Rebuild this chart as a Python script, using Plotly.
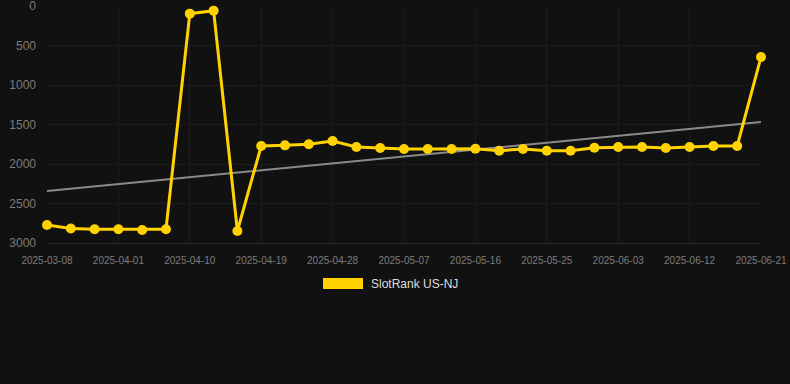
import plotly.graph_objects as go

dates = ["2025-03-08", "2025-03-20", "2025-03-29", "2025-04-01", "2025-04-04", "2025-04-07",
         "2025-04-10", "2025-04-13", "2025-04-16", "2025-04-19", "2025-04-22", "2025-04-25",
         "2025-04-28", "2025-05-01", "2025-05-04", "2025-05-07", "2025-05-10", "2025-05-13",
         "2025-05-16", "2025-05-19", "2025-05-22", "2025-05-25", "2025-05-28", "2025-05-31",
         "2025-06-03", "2025-06-06", "2025-06-09", "2025-06-12", "2025-06-15", "2025-06-18",
         "2025-06-21"]
ranks = [2772, 2816, 2826, 2826, 2835, 2826, 97, 59, 2848, 1772, 1764, 1751, 1709, 1785, 1797,
         1810, 1810, 1810, 1806, 1832, 1810, 1832, 1832, 1794, 1785, 1785, 1797, 1785, 1772,
         1772, 646]
trend_values = [2342, 1468]
y_ticks = [0, 500, 1000, 1500, 2000, 2500, 3000]
series_name = "SlotRank US-NJ"

gold = "#ffd200"
bg = "#111111"

fig = go.Figure()
fig.add_trace(go.Scatter(
    x=[dates[0], dates[-1]], y=trend_values, mode="lines",
    line=dict(color="#8a8a8a", width=2), showlegend=False, hoverinfo="skip"))
fig.add_trace(go.Scatter(
    x=dates, y=ranks, mode="lines+markers", name=series_name,
    line=dict(color=gold, width=3), marker=dict(color=gold, size=10),
    cliponaxis=False, showlegend=False))

fig.update_layout(
    width=790, height=384,
    paper_bgcolor=bg, plot_bgcolor=bg,
    margin=dict(l=47, r=29, t=6, b=141),
    font=dict(family="Liberation Sans, Arial, sans-serif", color="#7c7c7c"),
    xaxis=dict(type="category", categoryorder="array", categoryarray=dates,
               range=[0, len(dates) - 1], automargin=False,
               tickvals=dates[::3], ticktext=dates[::3],
               tickfont=dict(size=10, color="#7c7c7c"),
               showgrid=True, gridcolor="#1c1c1c", gridwidth=1,
               ticks="outside", ticklen=8, tickcolor="rgba(0,0,0,0)",
               showline=True, linecolor="#2a2a2a", zeroline=False),
    yaxis=dict(range=[3000, 0], tickvals=y_ticks, automargin=False,
               tickfont=dict(size=12, color="#7c7c7c"),
               showgrid=True, gridcolor="#1c1c1c", gridwidth=1,
               zeroline=False, ticklabelstandoff=10, showline=False,
               ticklabeloverflow="allow"),
    showlegend=False,
)

fig.add_shape(type="rect", xref="paper", yref="paper",
              x0=(323 - 47) / 714, x1=(363 - 47) / 714,
              y0=(243 - 289) / 237, y1=(243 - 278) / 237,
              fillcolor=gold, line=dict(width=0))
fig.add_annotation(text=series_name, xref="paper", yref="paper",
                   x=(369 - 47) / 714, y=(243 - 284) / 237,
                   xanchor="left", yanchor="middle", showarrow=False,
                   font=dict(size=12, color="#dddddd"))

fig.write_html("out.html", config={"displayModeBar": False},
               post_script="document.body.style.margin='0';document.body.style.overflow='hidden';")
